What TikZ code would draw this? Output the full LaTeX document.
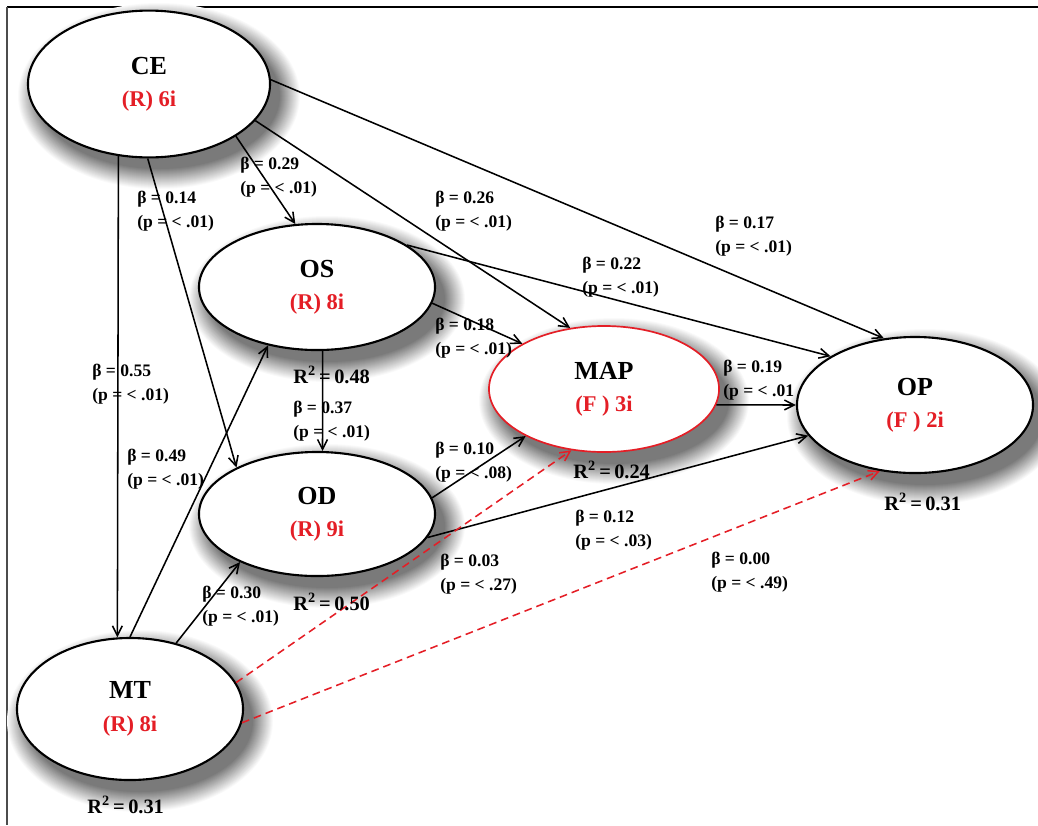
\documentclass[tikz,border=0pt]{standalone}
\usepackage{fontspec}
\setmainfont{Liberation Serif}
\usetikzlibrary{shapes.geometric,arrows.meta}

\definecolor{ered}{RGB}{228,30,38}
\newcommand{\scalelab}[1]{{\color{ered}\fontsize{16}{23}\selectfont #1}}

\begin{document}
\begin{tikzpicture}[x=0.025cm, y=-0.025cm,
  latent/.style={ellipse, draw=black, line width=1.5pt, fill=white, align=center,
    font=\fontsize{18.5}{23}\selectfont\bfseries},
  link/.style={line width=1.1pt, -{Straight Barb[length=7pt,width=7pt]}},
  nolink/.style={link, ered, dash pattern=on 5.5pt off 3.5pt},
  coef/.style={anchor=west, inner sep=0pt, align=left, font=\fontsize{12.5}{17}\selectfont\bfseries},
  rsq/.style={anchor=west, inner sep=0pt, font=\fontsize{14.5}{17}\selectfont\bfseries}]

% Frame
\useasboundingbox (0,0) rectangle (1038,825);
\draw[line width=1.6pt] (7,7) -- (1038,7);
\draw[line width=0.8pt, black!70] (7,7) -- (7,825);

% Shadows
\foreach \cx/\cy/\rx/\ry in {149/84/121/73, 317/287/118/63, 317/514/118/62,
    130/709/113/71, 604/389/115/63, 915/405/118/68} {
  \foreach \k [evaluate=\k as \g using 52-2.5*\k] in {20,19,...,0}
    \fill[black!\g] (\cx+10,\cy+12) ellipse [x radius=\rx+\k, y radius=\ry+\k];
}

% Constructs
\node[latent, minimum width=6.05cm, minimum height=3.67cm] (ce) at (149,84) {CE\\\scalelab{(R) 6i}};
\node[latent, minimum width=5.9cm, minimum height=3.15cm] (os) at (317,287) {OS\\\scalelab{(R) 8i}};
\node[latent, minimum width=5.9cm, minimum height=3.1cm] (od) at (317,514) {OD\\\scalelab{(R) 9i}};
\node[latent, minimum width=5.65cm, minimum height=3.55cm] (mt) at (130,709) {MT\\\scalelab{(R) 8i}};
\node[latent, draw=ered, line width=1.2pt, minimum width=5.75cm, minimum height=3.15cm] (map) at (604,389) {MAP\\\scalelab{(F ) 3i}};
\node[latent, minimum width=5.9cm, minimum height=3.4cm] (op) at (915,405) {OP\\\scalelab{(F ) 2i}};

% Paths From CE
\draw[link] (ce.-113) -- (mt.100);
\draw[link] (ce.-91) -- (od.150);
\draw[link] (ce.-31.5) -- (os.109);
\draw[link] (ce.-19) -- (map.119);
\draw[link] (ce.2) -- (op.115);

% Paths From OS and OD
\draw[link] (os.25) -- (op.150);
\draw[link] (os.-8) -- (map.151);
\draw[link] (os.-85) -- (od.85);
\draw[link] (od.8) -- (map.-149);
\draw[link] (od.-12) -- (op.-164);

% Paths From MT
\draw[link] (mt.90) -- (os.-130);
\draw[link] (mt.55) -- (od.-148);
\draw[nolink] (mt.14) -- (map.-118);
\draw[nolink] (mt.-7) -- (op.-118);

% MAP To OP
\draw[link] (map.-8) -- (op.180);

% Coefficients
\node[coef] (c-ce-mt) at (92,384) {β = 0.55\\(p = < .01)};
\node[coef] (c-ce-od) at (137,211) {β = 0.14\\(p = < .01)};
\node[coef] (c-ce-os) at (240,177) {β = 0.29\\(p = < .01)};
\node[coef] (c-ce-map) at (435,211) {β = 0.26\\(p = < .01)};
\node[coef] (c-ce-op) at (715,236) {β = 0.17\\(p = < .01)};
\node[coef] (c-os-op) at (582,277) {β = 0.22\\(p = < .01)};
\node[coef] (c-os-map) at (435,338) {β = 0.18\\(p = < .01)};
\node[coef] (c-os-od) at (293,421) {β = 0.37\\(p = < .01)};
\node[coef] (c-od-map) at (435,462) {β = 0.10\\(p = < .08)};
\node[coef] (c-od-op) at (575,530) {β = 0.12\\(p = < .03)};
\node[coef] (c-map-op) at (723,380) {β = 0.19\\(p = < .01};
\node[coef] (c-mt-os) at (127,469) {β = 0.49\\(p = < .01)};
\node[coef] (c-mt-od) at (202,606) {β = 0.30\\(p = < .01)};
\node[coef] (c-mt-map) at (440,574) {β = 0.03\\(p = < .27)};
\node[coef] (c-mt-op) at (711,572) {β = 0.00\\(p = < .49)};

% Explained Variance
\node[rsq] (r-os) at (293,375) {R\textsuperscript{2}\,=\,0.48};
\node[rsq] (r-od) at (293,602) {R\textsuperscript{2}\,=\,0.50};
\node[rsq] (r-map) at (573,470) {R\textsuperscript{2}\,=\,0.24};
\node[rsq] (r-op) at (884,502) {R\textsuperscript{2}\,=\,0.31};
\node[rsq] (r-mt) at (87,805) {R\textsuperscript{2}\,=\,0.31};
\end{tikzpicture}
\end{document}
